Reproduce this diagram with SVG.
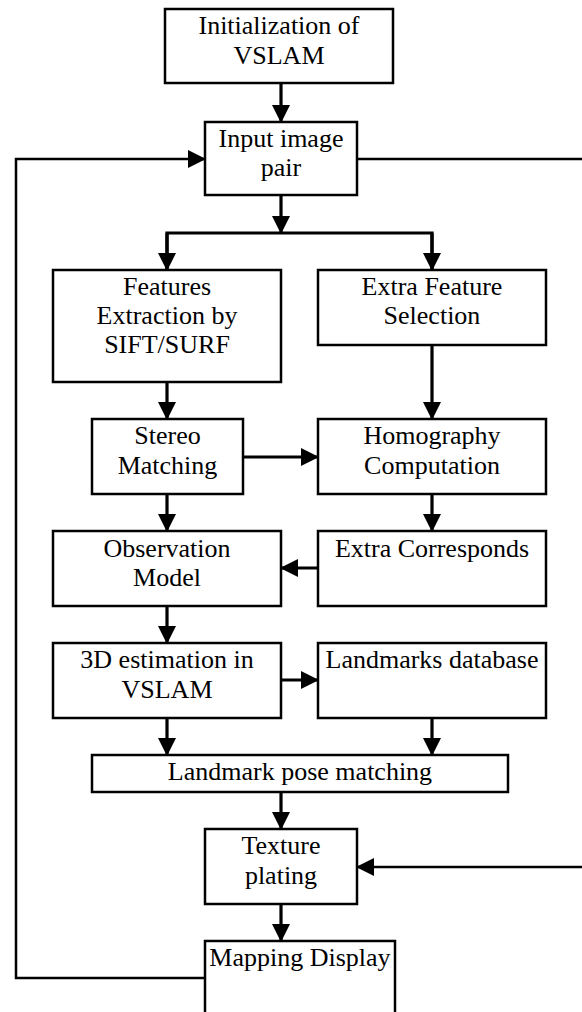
<svg xmlns="http://www.w3.org/2000/svg" width="582" height="1012" viewBox="0 0 582 1012">
<style>
.box{fill:#fff;stroke:#000;stroke-width:2.5}
.t{font-family:"Liberation Serif","Times New Roman",serif;font-size:26px;fill:#000;text-anchor:middle}
.c{fill:none;stroke:#000;stroke-width:3.2}
.l{fill:none;stroke:#000;stroke-width:2.5}
</style>
<defs>
<marker id="ah" markerUnits="userSpaceOnUse" markerWidth="18" markerHeight="18" refX="17" refY="9" orient="auto">
<path d="M0,0 L18,9 L0,18 z" fill="#000"/>
</marker>
</defs>
<rect width="582" height="1012" fill="#fff"/>
<g id="connectors">
<path class="c" d="M281,83 V122" marker-end="url(#ah)"/>
<path class="c" d="M281,195 V233" marker-end="url(#ah)"/>
<path class="c" d="M167,270 V233 H432 V270" />
<path class="c" d="M167,233 V270" marker-end="url(#ah)"/>
<path class="c" d="M432,233 V270" marker-end="url(#ah)"/>
<path class="c" d="M167,382 V419" marker-end="url(#ah)"/>
<path class="c" d="M432,345 V419" marker-end="url(#ah)"/>
<path class="c" d="M243,457 H318" marker-end="url(#ah)"/>
<path class="c" d="M167,494 V531" marker-end="url(#ah)"/>
<path class="c" d="M432,494 V531" marker-end="url(#ah)"/>
<path class="c" d="M318,568 H281" marker-end="url(#ah)"/>
<path class="c" d="M167,606 V643" marker-end="url(#ah)"/>
<path class="c" d="M281,680 H318" marker-end="url(#ah)"/>
<path class="c" d="M167,718 V755" marker-end="url(#ah)"/>
<path class="c" d="M432,718 V755" marker-end="url(#ah)"/>
<path class="c" d="M281,792 V829" marker-end="url(#ah)"/>
<path class="c" d="M281,904 V941" marker-end="url(#ah)"/>
<path class="l" d="M205,978 H16 V159 H205" marker-end="url(#ah)"/>
<path class="l" d="M357,159 H595 V867 H357" marker-end="url(#ah)"/>
</g>
<g id="init">
<rect class="box" x="165" y="9" width="228" height="74"/>
<text class="t" x="279" y="34">Initialization of</text>
<text class="t" x="279" y="64">VSLAM</text>
</g>
<g id="input">
<rect class="box" x="205" y="122" width="152" height="73"/>
<text class="t" x="281" y="147">Input image</text>
<text class="t" x="281" y="176">pair</text>
</g>
<g id="features">
<rect class="box" x="53" y="270" width="228" height="112"/>
<text class="t" x="167" y="295">Features</text>
<text class="t" x="167" y="324">Extraction by</text>
<text class="t" x="167" y="353">SIFT/SURF</text>
</g>
<g id="extra-feature">
<rect class="box" x="318" y="270" width="228" height="75"/>
<text class="t" x="432" y="295">Extra Feature</text>
<text class="t" x="432" y="324">Selection</text>
</g>
<g id="stereo">
<rect class="box" x="92" y="419" width="151" height="75"/>
<text class="t" x="167.5" y="444">Stereo</text>
<text class="t" x="167.5" y="474">Matching</text>
</g>
<g id="homography">
<rect class="box" x="318" y="419" width="228" height="75"/>
<text class="t" x="432" y="444">Homography</text>
<text class="t" x="432" y="474">Computation</text>
</g>
<g id="observation">
<rect class="box" x="53" y="531" width="228" height="75"/>
<text class="t" x="167" y="557">Observation</text>
<text class="t" x="167" y="586">Model</text>
</g>
<g id="extra-corr">
<rect class="box" x="318" y="531" width="228" height="75"/>
<text class="t" x="432" y="557">Extra Corresponds</text>
</g>
<g id="estimation">
<rect class="box" x="53" y="643" width="228" height="75"/>
<text class="t" x="167" y="668">3D estimation in</text>
<text class="t" x="167" y="698">VSLAM</text>
</g>
<g id="landmarks-db">
<rect class="box" x="318" y="643" width="228" height="75"/>
<text class="t" x="432" y="668">Landmarks database</text>
</g>
<g id="pose-matching">
<rect class="box" x="92" y="755" width="416" height="37"/>
<text class="t" x="300" y="780">Landmark pose matching</text>
</g>
<g id="texture">
<rect class="box" x="205" y="829" width="152" height="75"/>
<text class="t" x="281" y="854">Texture</text>
<text class="t" x="281" y="884">plating</text>
</g>
<g id="mapping">
<rect class="box" x="205" y="941" width="190" height="100"/>
<text class="t" x="300" y="966">Mapping Display</text>
</g>
</svg>
